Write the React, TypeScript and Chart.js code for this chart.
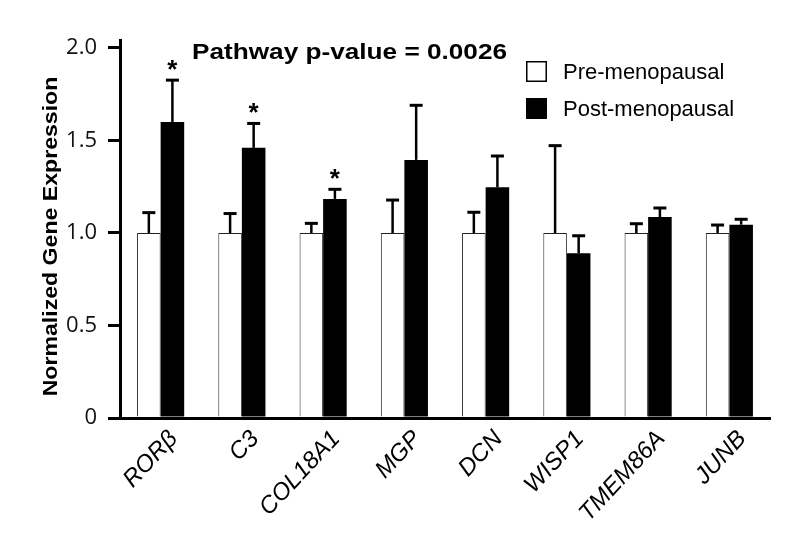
import React, { useEffect, useRef } from 'react';
import { Chart, registerables } from 'chart.js';

Chart.register(...registerables);

const genes = ['RORβ', 'C3', 'COL18A1', 'MGP', 'DCN', 'WISP1', 'TMEM86A', 'JUNB'];
const preMean = [1.0, 1.0, 1.0, 1.0, 1.0, 1.0, 1.0, 1.0];
const preErr = [0.11, 0.105, 0.052, 0.178, 0.112, 0.472, 0.05, 0.043];
const postMean = [1.6, 1.46, 1.184, 1.395, 1.247, 0.89, 1.086, 1.045];
const postErr = [0.226, 0.132, 0.052, 0.295, 0.169, 0.095, 0.049, 0.029];
const significant = [true, true, true, false, false, false, false, false];
const yTickValues = [0, 0.5, 1.0, 1.5, 2.0];
const seriesLabels = ['Pre-menopausal', 'Post-menopausal'];
const titleText = 'Pathway p-value = 0.0026';
const yTitleText = 'Normalized Gene Expression';

const errorSets = [preErr, postErr];

const errorBarPlugin = {
  id: 'errorBars',
  afterDatasetsDraw(chart: any) {
    const ctx = chart.ctx;
    const y = chart.scales.y;
    ctx.save();
    ctx.strokeStyle = '#000';
    chart.data.datasets.forEach((ds: any, di: number) => {
      const meta = chart.getDatasetMeta(di);
      meta.data.forEach((bar: any, i: number) => {
        const v = ds.data[i];
        const base = y.getPixelForValue(v);
        const top = y.getPixelForValue(v + errorSets[di][i]);
        ctx.lineWidth = 2.5;
        ctx.beginPath();
        ctx.moveTo(bar.x, base);
        ctx.lineTo(bar.x, top);
        ctx.stroke();
        ctx.lineWidth = 3;
        ctx.beginPath();
        ctx.moveTo(bar.x - 6.5, top);
        ctx.lineTo(bar.x + 6.5, top);
        ctx.stroke();
        if (di === 1 && significant[i]) {
          ctx.fillStyle = '#000';
          ctx.font = 'bold 26px "Liberation Sans", Arial, sans-serif';
          ctx.textAlign = 'center';
          ctx.textBaseline = 'alphabetic';
          ctx.fillText('*', bar.x, top - 2);
        }
      });
    });
    ctx.restore();
  },
};

const annotationPlugin = {
  id: 'annotations',
  afterDraw(chart: any) {
    const ctx = chart.ctx;
    ctx.save();
    ctx.fillStyle = '#000';
    // Title
    ctx.save();
    ctx.font = 'bold 22px "Liberation Sans", Arial, sans-serif';
    ctx.textAlign = 'left';
    ctx.textBaseline = 'alphabetic';
    ctx.translate(192, 58.5);
    ctx.scale(1.19, 1);
    ctx.fillText(titleText, 0, 0);
    ctx.restore();
    // Y axis title
    ctx.save();
    ctx.font = 'bold 21px "Liberation Sans", Arial, sans-serif';
    ctx.textAlign = 'center';
    ctx.textBaseline = 'alphabetic';
    ctx.translate(57, 236.5);
    ctx.rotate(-Math.PI / 2);
    ctx.scale(1.1, 1);
    ctx.fillText(yTitleText, 0, 0);
    ctx.restore();
    // Legend
    const ds = chart.data.datasets;
    const boxX = 526;
    const boxTops = [61, 98];
    const baselines = [78.5, 115.5];
    ctx.font = '22px "Liberation Sans", Arial, sans-serif';
    ctx.textAlign = 'left';
    ctx.textBaseline = 'alphabetic';
    ds.forEach((d: any, i: number) => {
      ctx.fillStyle = d.backgroundColor;
      ctx.fillRect(boxX, boxTops[i], 21, 21);
      ctx.lineWidth = 1.5;
      ctx.strokeStyle = '#000';
      ctx.strokeRect(boxX + 0.75, boxTops[i] + 0.75, 19.5, 19.5);
      ctx.fillStyle = '#000';
      ctx.fillText(d.label, 563, baselines[i]);
    });
    ctx.restore();
  },
};

export default function App() {
  const canvasRef = useRef<HTMLCanvasElement | null>(null);

  useEffect(() => {
    const canvas = canvasRef.current;
    if (!canvas) return;
    const chart = new Chart(canvas, {
      type: 'bar',
      data: {
        labels: genes,
        datasets: [
          {
            label: seriesLabels[0],
            data: preMean,
            backgroundColor: '#ffffff',
            borderColor: '#222222',
            borderWidth: 1,
            borderSkipped: 'bottom',
          },
          {
            label: seriesLabels[1],
            data: postMean,
            backgroundColor: '#000000',
            borderColor: '#000000',
            borderWidth: 0,
          },
        ],
      },
      options: {
        responsive: false,
        animation: false,
        events: [],
        layout: { padding: { top: 40, right: 30, left: 0, bottom: 0 } },
        plugins: {
          legend: { display: false },
          title: { display: false },
          tooltip: { enabled: false },
        },
        datasets: {
          bar: { categoryPercentage: 0.58, barPercentage: 1.0 },
        },
        scales: {
          x: {
            grid: { display: false, drawTicks: false },
            border: { display: true, color: '#000', width: 3 },
            ticks: {
              autoSkip: false,
              minRotation: 47,
              maxRotation: 47,
              padding: 7,
              labelOffset: 13,
              color: '#000',
              font: { family: '"Liberation Sans", Arial, sans-serif', size: 24, style: 'italic' },
            },
            afterFit(scale: any) {
              scale.height = 122;
            },
          },
          y: {
            min: 0,
            max: 2.043,
            grid: {
              display: true,
              drawOnChartArea: false,
              drawTicks: true,
              tickLength: 12,
              lineWidth: 3,
              color: '#000',
            },
            border: { display: true, color: '#000', width: 3 },
            afterBuildTicks(scale: any) {
              scale.ticks = yTickValues.map((v) => ({ value: v }));
            },
            ticks: {
              padding: 11,
              color: '#111',
              font: { family: '"Open Sans", sans-serif', size: 22 },
              callback: (v: any) => (Number(v) === 0 ? '0' : Number(v).toFixed(1)),
            },
            afterFit(scale: any) {
              scale.width = 120;
            },
          },
        },
      },
      plugins: [errorBarPlugin, annotationPlugin],
    });
    return () => chart.destroy();
  }, []);

  return (
    <div style={{ position: 'absolute', left: 0, top: 0, width: 800, height: 540, background: '#fff' }}>
      <canvas ref={canvasRef} width={800} height={540} style={{ display: 'block' }} />
    </div>
  );
}
